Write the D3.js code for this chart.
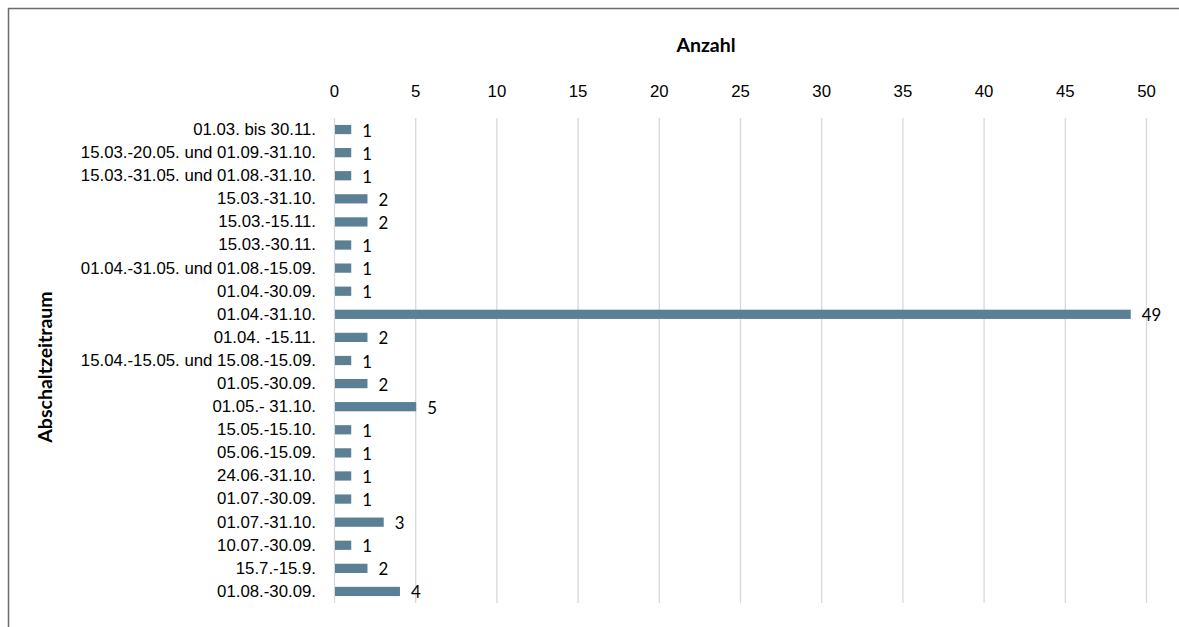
<!DOCTYPE html>
<html>
<head>
<meta charset="utf-8">
<script src="https://cdn.jsdelivr.net/npm/d3@7"></script>
<style>
  body { margin: 0; background: #fff; }
  svg { display: block; font-family: Lato, "Open Sans", sans-serif; }
</style>
</head>
<body>
<svg id="chart" width="1179" height="627"></svg>
<script>
const categories = [
  '01.03. bis 30.11.',
  '15.03.-20.05. und 01.09.-31.10.',
  '15.03.-31.05. und 01.08.-31.10.',
  '15.03.-31.10.',
  '15.03.-15.11.',
  '15.03.-30.11.',
  '01.04.-31.05. und 01.08.-15.09.',
  '01.04.-30.09.',
  '01.04.-31.10.',
  '01.04. -15.11.',
  '15.04.-15.05. und 15.08.-15.09.',
  '01.05.-30.09.',
  '01.05.- 31.10.',
  '15.05.-15.10.',
  '05.06.-15.09.',
  '24.06.-31.10.',
  '01.07.-30.09.',
  '01.07.-31.10.',
  '10.07.-30.09.',
  '15.7.-15.9.',
  '01.08.-30.09.'
]
const counts = [1, 1, 1, 2, 2, 1, 1, 1, 49, 2, 1, 2, 5, 1, 1, 1, 1, 3, 1, 2, 4]
const xTicks = [0, 5, 10, 15, 20, 25, 30, 35, 40, 45, 50]

const svg = d3.select('#chart')
const margin = { left: 334, right: 33, top: 118, bottom: 24 }
const width = 1179, height = 627
const labelSize = 16.8

// outer frame (left + top only visible in reference)
svg.append('path')
  .attr('d', `M8.5,627 L8.5,8.5 L1179,8.5`)
  .attr('fill', 'none')
  .attr('stroke', '#6b6b6b')
  .attr('stroke-width', 1.5)

const x = d3.scaleLinear().domain([0, 50]).range([margin.left, width - margin.right])
const y = d3.scaleBand().domain(categories).range([margin.top, height - margin.bottom]).paddingInner(0.6).paddingOuter(0.3)

// gridlines
svg.append('g')
  .selectAll('line')
  .data(xTicks)
  .join('line')
  .attr('x1', (d) => x(d) + 0.5)
  .attr('x2', (d) => x(d) + 0.5)
  .attr('y1', margin.top)
  .attr('y2', height - margin.bottom)
  .attr('stroke', '#d9d9d9')
  .attr('stroke-width', 1.3)

// top tick labels
const xAxis = d3.axisTop(x).tickValues(xTicks).tickSize(0).tickPadding(0)
svg.append('g')
  .attr('transform', `translate(0,${margin.top - 21})`)
  .call(xAxis)
  .call((g) => g.select('.domain').remove())
  .call((g) => g.selectAll('text').attr('font-size', labelSize).attr('fill', '#000').attr('font-family', null))

// category labels
const yAxis = d3.axisLeft(y).tickSize(0).tickPadding(18)
svg.append('g')
  .attr('transform', `translate(${margin.left},0)`)
  .call(yAxis)
  .call((g) => g.select('.domain').remove())
  .call((g) => g.selectAll('text').attr('font-size', labelSize).attr('fill', '#000').attr('font-family', null))

// bars
svg.append('g')
  .selectAll('rect')
  .data(counts)
  .join('rect')
  .attr('x', x(0) + 1)
  .attr('y', (d, i) => y(categories[i]))
  .attr('width', (d) => x(d) - x(0))
  .attr('height', y.bandwidth())
  .attr('fill', '#5b7f95')

// value labels
svg.append('g')
  .selectAll('text')
  .data(counts)
  .join('text')
  .attr('x', (d) => x(d) + 12)
  .attr('y', (d, i) => y(categories[i]) + y.bandwidth() / 2 + 7)
  .attr('font-size', labelSize)
  .text((d) => d)

// axis titles
svg.append('text')
  .attr('x', 706)
  .attr('y', 52)
  .attr('text-anchor', 'middle')
  .attr('font-size', 19.5)
  .attr('font-weight', 'bold')
  .text('Anzahl')

svg.append('text')
  .attr('transform', `translate(52,367) rotate(-90)`)
  .attr('text-anchor', 'middle')
  .attr('font-size', 19.5)
  .attr('font-weight', 'bold')
  .text('Abschaltzeitraum')
</script>
</body>
</html>
